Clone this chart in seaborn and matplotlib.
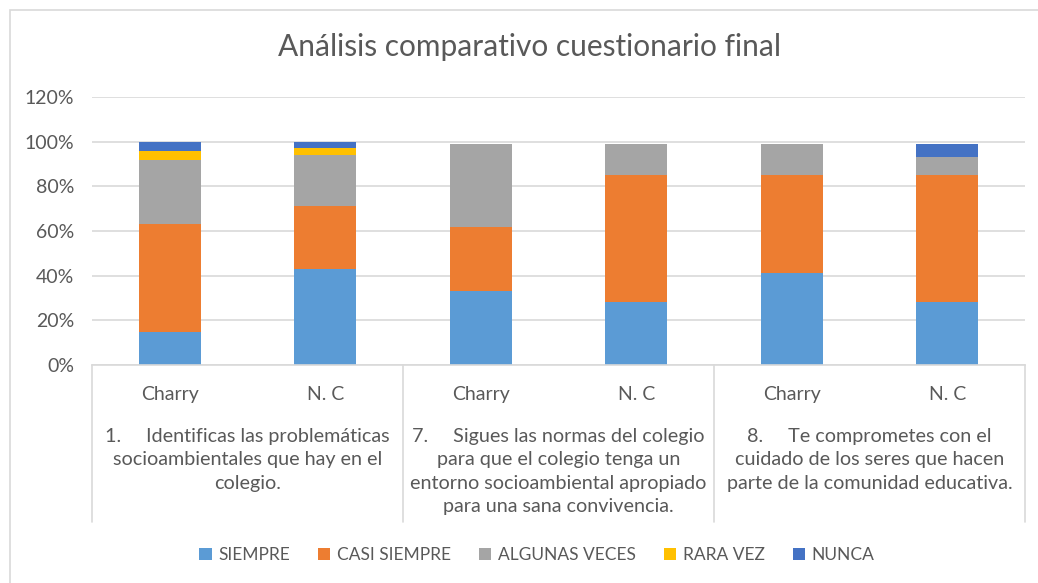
import pandas as pd
import numpy as np
import matplotlib.pyplot as plt
import seaborn as sns
from matplotlib.patches import Rectangle, Patch

# Datos (en %)
barras = ['Charry 1', 'N. C 1', 'Charry 7', 'N. C 7', 'Charry 8', 'N. C 8']
etiquetas = ['Charry', 'N. C', 'Charry', 'N. C', 'Charry', 'N. C']
preguntas = [
    '1.     Identificas las problemáticas\nsocioambientales que hay en el\ncolegio.',
    '7.     Sigues las normas del colegio\npara que el colegio tenga un\nentorno socioambiental apropiado\npara una sana convivencia.',
    '8.     Te comprometes con el\ncuidado de los seres que hacen\nparte de la comunidad educativa.',
]
siempre = [15, 43, 33, 28, 41, 28]
casi_siempre = [48, 28, 29, 57, 44, 57]
algunas_veces = [29, 23, 37, 14, 14, 8]
rara_vez = [4, 3, 0, 0, 0, 0]
nunca = [4, 3, 0, 0, 0, 6]

series = {
    'SIEMPRE': siempre,
    'CASI SIEMPRE': casi_siempre,
    'ALGUNAS VECES': algunas_veces,
    'RARA VEZ': rara_vez,
    'NUNCA': nunca,
}
colores = ['#5b9bd5', '#ed7d31', '#a5a5a5', '#ffc000', '#4472c4']

sns.set_theme(style='white')
plt.rcParams['font.family'] = ['Lato', 'DejaVu Sans']
gris = '#595959'

fig = plt.figure(figsize=(10.38, 5.83), dpi=100)
ax = fig.add_axes([92 / 1038, 1 - 365 / 583, (1025 - 92) / 1038, (365 - 97) / 583])

fondo = np.zeros(len(barras))
for (nombre, vals), col in zip(series.items(), colores):
    df = pd.DataFrame({'barra': barras, 'valor': vals})
    sns.barplot(data=df, x='barra', y='valor', order=barras, color=col,
                width=0.4, bottom=fondo, ax=ax, saturation=1, linewidth=0)
    fondo = fondo + np.array(vals)

ax.set_xlim(-0.5, 5.5)
ax.set_ylim(0, 120)
ax.set_yticks(range(0, 121, 20))
ax.set_yticklabels([f'{v}%' for v in range(0, 121, 20)], color=gris, fontsize=14)
ax.yaxis.grid(True, color='#d9d9d9', linewidth=1.2)
ax.set_axisbelow(True)
for s in ['top', 'right', 'left']:
    ax.spines[s].set_visible(False)
ax.spines['bottom'].set_color('#d9d9d9')
ax.spines['bottom'].set_linewidth(1.2)
ax.tick_params(axis='y', length=0, pad=13)
ax.set_xticks(range(len(barras)))
ax.set_xticklabels(etiquetas, color=gris, fontsize=14)
ax.tick_params(axis='x', length=0, pad=15)
ax.set_xlabel('')
ax.set_ylabel('')

# separadores de grupos y textos de pregunta
trans = ax.get_xaxis_transform()
for xs in [-0.5, 1.5, 3.5, 5.5]:
    ax.plot([xs, xs], [0, -157 / 268], transform=trans, color='#d9d9d9',
            linewidth=1.2, clip_on=False)
for i, txt in enumerate(preguntas):
    ax.text(2 * i + 0.5, -63 / 268, txt, transform=trans, ha='center', va='top',
            color=gris, fontsize=14.2, linespacing=1.46)

fig.suptitle('Análisis comparativo cuestionario final', x=530 / 1038, y=1 - 47 / 583,
             va='center', color=gris, fontsize=21.5)

manejadores = [Patch(facecolor=c, edgecolor='none') for c in colores]
fig.legend(manejadores, list(series.keys()), loc='center', ncol=5,
           bbox_to_anchor=(537 / 1038, 1 - 555 / 583), frameon=False,
           fontsize=12.5, handlelength=0.7, handleheight=0.7, handletextpad=0.4,
           columnspacing=1.6, labelcolor=gris)

# borde del gráfico
fig.patches.append(Rectangle((10 / 1038, -0.1), 1.2, 1.1 - 10 / 583,
                             transform=fig.transFigure, fill=False,
                             edgecolor='#d9d9d9', linewidth=1.2))

fig.savefig('out.png', dpi=100)
